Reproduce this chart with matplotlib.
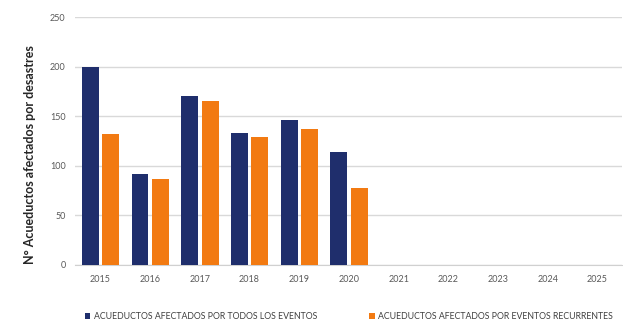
import matplotlib
matplotlib.use("Agg")
import matplotlib.pyplot as plt
import numpy as np

years = ['2015', '2016', '2017', '2018', '2019', '2020', '2021', '2022', '2023', '2024', '2025']
todos = [200, 92, 170, 133, 146, 114, 0, 0, 0, 0, 0]
recurrentes = [132, 87, 165, 129, 137, 78, 0, 0, 0, 0, 0]
labels = ['ACUEDUCTOS AFECTADOS POR TODOS LOS EVENTOS',
          'ACUEDUCTOS AFECTADOS POR EVENTOS RECURRENTES']

plt.rcParams['font.family'] = ['Lato', 'DejaVu Sans']

fig = plt.figure(figsize=(6.23, 3.27), dpi=100)
ax = fig.add_axes([0.121, 0.19, 0.878, 0.758])

x = np.arange(len(years))
w = 0.34
ax.bar(x - 0.2, todos, w, color='#1f2e6c', label=labels[0], zorder=3)
ax.bar(x + 0.21, recurrentes, w, color='#f27a12', label=labels[1], zorder=3)

ax.set_xlim(-0.5, len(years) - 0.5)
ax.set_ylim(0, 250)
ax.set_yticks([0, 50, 100, 150, 200, 250])
ax.set_xticks(x)
ax.set_xticklabels(years)
ax.yaxis.grid(True, color='#d9d9d9', linewidth=1)
ax.set_axisbelow(True)
for s in ['top', 'right', 'left']:
    ax.spines[s].set_visible(False)
ax.spines['bottom'].set_color('#d0d0d0')
ax.tick_params(axis='both', length=0, labelsize=6.5, labelcolor='#595959', pad=7)

# y label sits a bit lower than the axes centre in the original
fig.text(0.048, 0.527, 'N° Acueductos afectados por desastres', rotation=90,
         fontsize=9, fontweight='bold', color='#262626', ha='center', va='center')

fig.legend(loc='center', bbox_to_anchor=(0.56, 0.032), ncol=2, frameon=False,
           fontsize=6.3, handlelength=0.6, handleheight=0.6, handletextpad=0.4,
           columnspacing=6, labelcolor='#404040')

fig.savefig('out.png', dpi=100)
